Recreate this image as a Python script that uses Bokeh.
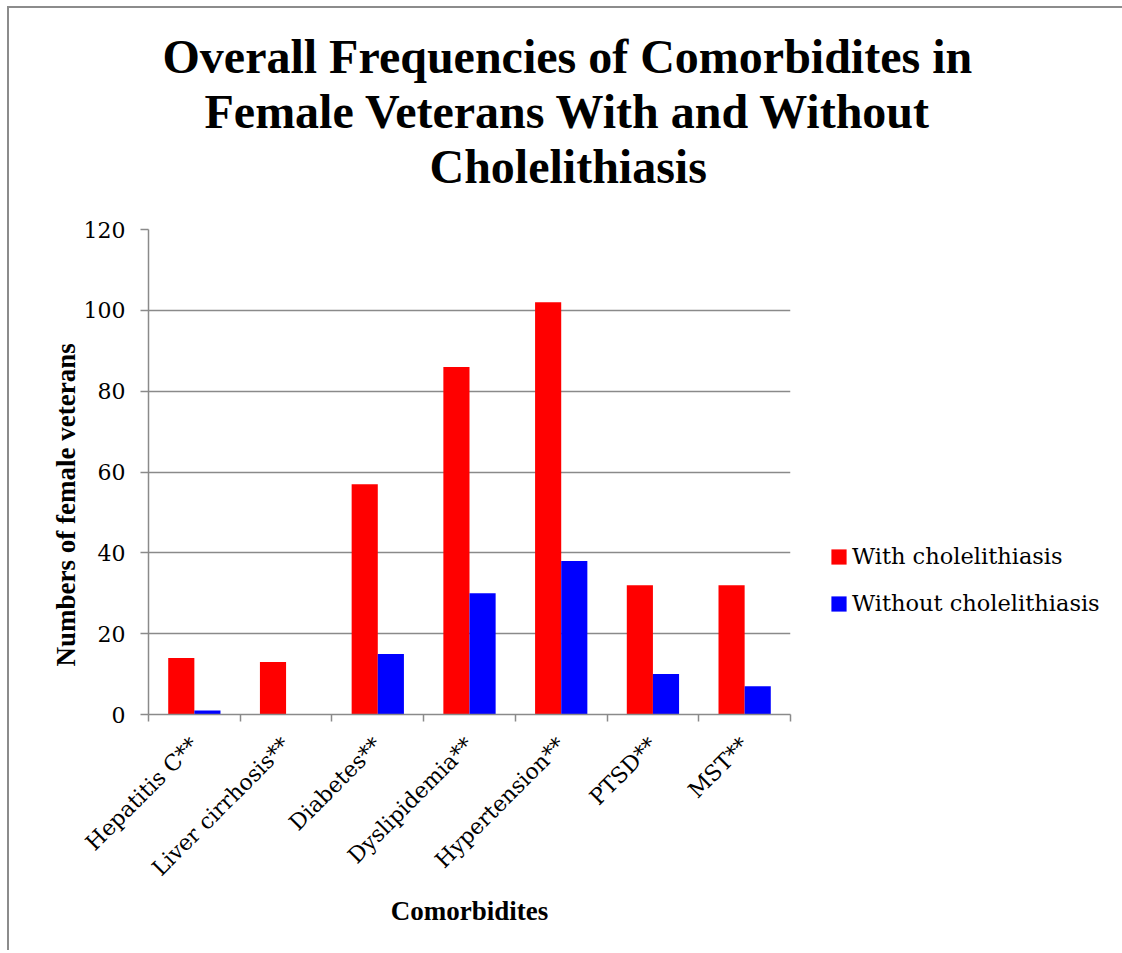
from math import pi
from bokeh.plotting import figure
from bokeh.models import Range1d, FixedTicker, Legend, LegendItem, Title
from bokeh.embed import file_html
from bokeh.resources import INLINE

categories = ["Hepatitis C**", "Liver cirrhosis**", "Diabetes**", "Dyslipidemia**",
              "Hypertension**", "PTSD**", "MST**"]
with_chole = [14, 13, 57, 86, 102, 32, 32]
without_chole = [1, 0, 15, 30, 38, 10, 7]
y_ticks = [0, 20, 40, 60, 80, 100, 120]
series_names = ["With cholelithiasis", "Without cholelithiasis"]
title_lines = ["Overall Frequencies of Comorbidites in",
               "Female Veterans With and Without",
               "Cholelithiasis"]
x_title = "Comorbidites"
y_title = "Numbers of female veterans"

GREY = "#8a8a8a"
SERIF = "DejaVu Serif"
BOLD = "Liberation Serif"

n = len(categories)
p = figure(frame_width=642, frame_height=485, output_backend="svg", toolbar_location=None,
           x_range=Range1d(0, n), y_range=Range1d(0, 120),
           min_border_left=139, min_border_right=316, min_border_top=221,
           min_border_bottom=236, outline_line_color=None)
p.styles = {"border-left": "2px solid #8c8c8c", "border-top": "2px solid #8c8c8c"}
p.margin = (6, 0, 0, 7)

bw = 0.285
xr = [i + 0.5 - bw / 2 for i in range(n)]
xb = [i + 0.5 + bw / 2 for i in range(n)]
r1 = p.vbar(x=xr, top=with_chole, width=bw, fill_color="#ff0000", line_color=None)
r2 = p.vbar(x=xb, top=without_chole, width=bw, fill_color="#0000ff", line_color=None)

# y axis
p.yaxis.ticker = FixedTicker(ticks=y_ticks)
p.ygrid.ticker = FixedTicker(ticks=y_ticks)
p.ygrid.grid_line_color = GREY
p.ygrid.grid_line_width = 1.5
p.xgrid.grid_line_color = None
p.yaxis.axis_line_color = GREY
p.yaxis.axis_line_width = 1.5
p.yaxis.major_tick_line_color = GREY
p.yaxis.major_tick_line_width = 1.5
p.yaxis.major_tick_out = 8
p.yaxis.major_tick_in = 0
p.yaxis.minor_tick_line_color = None
p.yaxis.major_label_standoff = 15
p.yaxis.major_label_text_font = SERIF
p.yaxis.major_label_text_font_size = "22px"
p.yaxis.major_label_text_color = "#000000"

# x axis: labels at centres, ticks at boundaries
p.xaxis.ticker = FixedTicker(ticks=[i + 0.5 for i in range(n)],
                             minor_ticks=list(range(n + 1)))
p.xaxis.major_label_overrides = {i + 0.5: c for i, c in enumerate(categories)}
p.xaxis.major_tick_line_color = None
p.xaxis.minor_tick_line_color = GREY
p.xaxis.minor_tick_line_width = 1.5
p.xaxis.minor_tick_out = 7
p.xaxis.minor_tick_in = 0
p.xaxis.axis_line_color = GREY
p.xaxis.axis_line_width = 1.5
p.xaxis.major_label_orientation = pi / 4
p.xaxis.major_label_standoff = 20
p.xaxis.major_label_text_font = SERIF
p.xaxis.major_label_text_font_size = "22px"
p.xaxis.major_label_text_color = "#000000"
p.xaxis.axis_label = x_title
p.xaxis.axis_label_text_font = BOLD
p.xaxis.axis_label_text_font_style = "bold"
p.xaxis.axis_label_text_font_size = "27px"
p.xaxis.axis_label_text_color = "#000000"
p.xaxis.axis_label_standoff = 4

# y axis title, placed along the left side starting a bit above the frame bottom
p.add_layout(Title(text=y_title, align="left", offset=48, text_font=BOLD,
                   text_font_style="bold", text_font_size="27px", text_color="#000000",
                   standoff=0), "left")

# spacer between plot area and the title block
p.add_layout(Title(text=" ", text_font_size="10px", standoff=24), "above")

# chart title lines (added bottom-up), left-aligned with offsets to centre them at page middle
title_offsets = [14, 56, 281]
for line, off in reversed(list(zip(title_lines, title_offsets))):
    p.add_layout(Title(text=line, align="left", offset=off, text_font=BOLD,
                       text_color="#000000", text_font_style="bold",
                       text_font_size="48px", standoff=0), "above")

legend = Legend(items=[LegendItem(label=series_names[0], renderers=[r1]),
                       LegendItem(label=series_names[1], renderers=[r2])],
                location=(39, 98), glyph_width=19, glyph_height=19, label_standoff=4,
                spacing=21, padding=0, margin=0, border_line_color=None,
                background_fill_alpha=0, label_text_font=SERIF, label_text_color="#000000",
                label_text_font_size="22.5px", label_height=19)
p.add_layout(legend, "right")

open("out.html", "w").write(file_html(p, INLINE))
